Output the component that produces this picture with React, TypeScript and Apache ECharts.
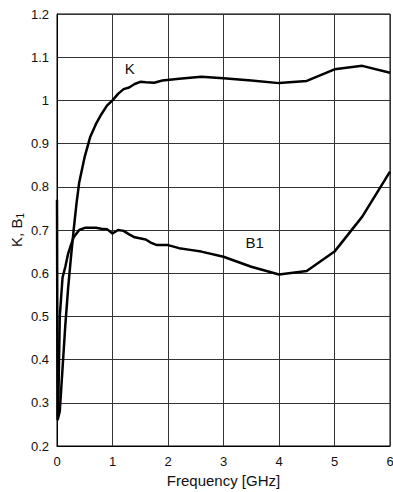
import React, { useEffect, useRef } from "react";
import * as echarts from "echarts";

const kFreq = [0, 0.01, 0.05, 0.1, 0.15, 0.2, 0.25, 0.3, 0.35, 0.4, 0.5, 0.6, 0.7, 0.8, 0.9, 1.0, 1.1, 1.2, 1.3, 1.4, 1.5, 1.6, 1.75, 1.9, 2.2, 2.6, 3.0, 3.5, 4.0, 4.5, 5.0, 5.5, 6.0];
const kValues = [0.77, 0.26, 0.28, 0.38, 0.48, 0.565, 0.635, 0.7, 0.76, 0.81, 0.87, 0.916, 0.945, 0.968, 0.988, 1.0, 1.015, 1.026, 1.03, 1.038, 1.043, 1.042, 1.041, 1.046, 1.05, 1.055, 1.051, 1.046, 1.04, 1.045, 1.072, 1.08, 1.064];

const b1Freq = [0.02, 0.05, 0.1, 0.15, 0.2, 0.25, 0.3, 0.4, 0.5, 0.7, 0.8, 0.9, 1.0, 1.1, 1.2, 1.3, 1.4, 1.6, 1.7, 1.8, 2.0, 2.2, 2.4, 2.6, 3.0, 3.5, 4.0, 4.5, 5.0, 5.5, 6.0];
const b1Values = [0.27, 0.5, 0.59, 0.615, 0.645, 0.665, 0.683, 0.7, 0.705, 0.705, 0.703, 0.702, 0.692, 0.7, 0.698, 0.69, 0.683, 0.678, 0.67, 0.665, 0.665, 0.658, 0.654, 0.65, 0.638, 0.615, 0.597, 0.605, 0.65, 0.731, 0.835];

const xTicks = [0, 1, 2, 3, 4, 5, 6];
const yTicks = [0.2, 0.3, 0.4, 0.5, 0.6, 0.7, 0.8, 0.9, 1, 1.1, 1.2];

const kLabelAt: [number, number] = [1.31, 1.073];
const b1LabelAt: [number, number] = [3.56, 0.67];

const font = "Liberation Sans, Arial, Helvetica, sans-serif";

export default function App() {
  const ref = useRef<HTMLDivElement>(null);
  useEffect(() => {
    if (!ref.current) return;
    const chart = echarts.init(ref.current, null, { renderer: "svg" });
    const pairs = (xs: number[], ys: number[]) => xs.map((x, i) => [x, ys[i]]);
    chart.setOption({
      animation: false,
      backgroundColor: "#fff",
      textStyle: { fontFamily: font },
      grid: {
        left: 57, right: 3, top: 14, bottom: 46,
        show: true, borderColor: "#000", borderWidth: 1,
        containLabel: false, outerBoundsMode: "none",
      },
      xAxis: {
        type: "value",
        min: xTicks[0],
        max: xTicks[xTicks.length - 1],
        interval: 1,
        name: "Frequency [GHz]",
        nameLocation: "middle",
        nameGap: 27,
        nameTextStyle: { fontSize: 15, color: "#111", fontFamily: font },
        axisLine: { show: true, lineStyle: { color: "#000", width: 1 } },
        axisTick: { show: false },
        axisLabel: { fontSize: 13, color: "#111", margin: 9, fontFamily: font },
        splitLine: { show: true, lineStyle: { color: "#333", width: 1 } },
      },
      yAxis: {
        type: "value",
        min: yTicks[0],
        max: yTicks[yTicks.length - 1],
        interval: 0.1,
        name: "K, B{sub|1}",
        nameLocation: "middle",
        nameRotate: 90,
        nameGap: 32,
        nameMoveOverlap: false,
        nameTextStyle: {
          fontSize: 15,
          color: "#111",
          fontFamily: font,
          rich: { sub: { fontSize: 10, verticalAlign: "bottom", padding: [8, 0, 0, 0], color: "#111", fontFamily: font } },
        },
        axisLine: { show: true, lineStyle: { color: "#000", width: 1 } },
        axisTick: { show: false },
        axisLabel: {
          fontSize: 13,
          color: "#111",
          margin: 8,
          fontFamily: font,
          formatter: (v: number) => String(Math.round(v * 10) / 10),
        },
        splitLine: { show: true, lineStyle: { color: "#333", width: 1 } },
      },
      series: [
        {
          name: "K",
          type: "line",
          data: pairs(kFreq, kValues),
          showSymbol: false,
          symbol: "none",
          lineStyle: { color: "#000", width: 2.5 },
          markPoint: {
            symbol: "circle",
            symbolSize: 0,
            data: [{ coord: kLabelAt, label: { show: true, formatter: "K", fontSize: 15, color: "#111", fontFamily: font } }],
          },
        },
        {
          name: "B1",
          type: "line",
          data: pairs(b1Freq, b1Values),
          showSymbol: false,
          symbol: "none",
          lineStyle: { color: "#000", width: 2.5 },
          markPoint: {
            symbol: "circle",
            symbolSize: 0,
            data: [{ coord: b1LabelAt, label: { show: true, formatter: "B1", fontSize: 15, color: "#111", fontFamily: font } }],
          },
        },
      ],
    });
    return () => chart.dispose();
  }, []);
  return <div ref={ref} style={{ position: "fixed", left: 0, top: 0, width: 393, height: 492 }} />;
}
